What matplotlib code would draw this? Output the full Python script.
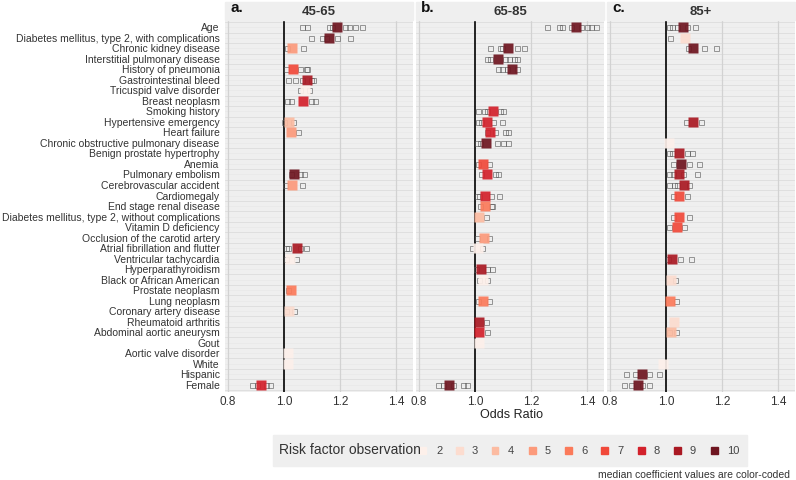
import numpy as np
import matplotlib
matplotlib.use('Agg')
import matplotlib.pyplot as plt
from matplotlib.patches import Rectangle

plt.rcParams['font.family'] = ['Liberation Sans', 'DejaVu Sans']

# Risk factors, top to bottom
factors = ['Age', 'Diabetes mellitus, type 2, with complications', 'Chronic kidney disease',
           'Interstitial pulmonary disease', 'History of pneumonia', 'Gastrointestinal bleed',
           'Tricuspid valve disorder', 'Breast neoplasm', 'Smoking history', 'Hypertensive emergency',
           'Heart failure', 'Chronic obstructive pulmonary disease', 'Benign prostate hypertrophy',
           'Anemia', 'Pulmonary embolism', 'Cerebrovascular accident', 'Cardiomegaly',
           'End stage renal disease', 'Diabetes mellitus, type 2, without complications',
           'Vitamin D deficiency', 'Occlusion of the carotid artery', 'Atrial fibrillation and flutter',
           'Ventricular tachycardia', 'Hyperparathyroidism', 'Black or African American',
           'Prostate neoplasm', 'Lung neoplasm', 'Coronary artery disease', 'Rheumatoid arthritis',
           'Abdominal aortic aneurysm', 'Gout', 'Aortic valve disorder', 'White', 'Hispanic', 'Female']

# panel a: 45-65
a_factor = ['Age', 'Diabetes mellitus, type 2, with complications', 'Chronic kidney disease',
            'History of pneumonia', 'Gastrointestinal bleed', 'Tricuspid valve disorder',
            'Breast neoplasm', 'Hypertensive emergency', 'Heart failure', 'Pulmonary embolism',
            'Cerebrovascular accident', 'Atrial fibrillation and flutter', 'Ventricular tachycardia',
            'Prostate neoplasm', 'Coronary artery disease', 'Aortic valve disorder', 'White', 'Female']
a_median = [1.188, 1.162, 1.027, 1.033, 1.083, 1.074, 1.069, 1.019, 1.026, 1.036,
            1.027, 1.045, 1.021, 1.026, 1.019, 1.013, 1.014, 0.918]
a_level = [10, 10, 5, 7, 9, 2, 8, 4, 5, 10, 5, 9, 2, 6, 3, 2, 2, 8]
a_coefs = [[1.063, 1.083, 1.162, 1.17, 1.218, 1.233, 1.254, 1.277],
           [1.096, 1.135, 1.15, 1.19, 1.236],
           [1.01, 1.067],
           [1.006, 1.057, 1.079, 1.083],
           [1.015, 1.04, 1.063, 1.098, 1.105],
           [1.057, 1.09],
           [1.01, 1.024, 1.095, 1.111],
           [1.001, 1.033],
           [1.05],
           [1.024, 1.057, 1.073],
           [1.004, 1.066],
           [1.006, 1.015, 1.057, 1.077],
           [1.006, 1.043],
           [1.013],
           [1.006, 1.036],
           [], [],
           [0.887, 0.902, 0.934, 0.95]]

# panel b: 65-85
b_factor = ['Age', 'Chronic kidney disease', 'Interstitial pulmonary disease', 'History of pneumonia',
            'Smoking history', 'Hypertensive emergency', 'Heart failure',
            'Chronic obstructive pulmonary disease', 'Anemia', 'Pulmonary embolism', 'Cardiomegaly',
            'End stage renal disease', 'Diabetes mellitus, type 2, without complications',
            'Occlusion of the carotid artery', 'Atrial fibrillation and flutter', 'Hyperparathyroidism',
            'Black or African American', 'Lung neoplasm', 'Rheumatoid arthritis',
            'Abdominal aortic aneurysm', 'Gout', 'Female']
b_median = [1.36, 1.119, 1.081, 1.131, 1.065, 1.042, 1.054, 1.038, 1.027, 1.042, 1.036,
            1.036, 1.014, 1.032, 1.012, 1.02, 1.03, 1.03, 1.014, 1.014, 1.014, 0.907]
b_level = [10, 10, 10, 10, 8, 8, 8, 10, 7, 8, 8, 6, 4, 5, 2, 9, 2, 6, 9, 8, 2, 10]
b_coefs = [[1.258, 1.3, 1.31, 1.342, 1.377, 1.399, 1.414, 1.431],
           [1.054, 1.089, 1.095, 1.149, 1.175],
           [1.044, 1.054, 1.107, 1.123, 1.139, 1.149],
           [1.083, 1.095, 1.113, 1.151],
           [1.01, 1.032, 1.044, 1.089, 1.101],
           [1.012, 1.021, 1.063, 1.095],
           [1.042, 1.071, 1.107, 1.119],
           [1.006, 1.018, 1.08, 1.101, 1.117],
           [1.01, 1.05],
           [1.021, 1.071, 1.083],
           [1.006, 1.015, 1.056, 1.087],
           [1.018, 1.057, 1.062],
           [1.039],
           [1.006, 1.051],
           [0.99, 1.026],
           [1.004, 1.044, 1.06],
           [1.014, 1.044],
           [1.01, 1.05],
           [1.039],
           [1.042],
           [],
           [0.869, 0.887, 0.923, 0.956, 0.973]]

# panel c: 85+
c_factor = ['Age', 'Diabetes mellitus, type 2, with complications', 'Chronic kidney disease',
            'Hypertensive emergency', 'Chronic obstructive pulmonary disease', 'Benign prostate hypertrophy',
            'Anemia', 'Pulmonary embolism', 'Cerebrovascular accident', 'Cardiomegaly',
            'Diabetes mellitus, type 2, without complications', 'Vitamin D deficiency',
            'Ventricular tachycardia', 'Black or African American', 'Lung neoplasm',
            'Rheumatoid arthritis', 'Abdominal aortic aneurysm', 'White', 'Hispanic', 'Female']
c_median = [1.062, 1.068, 1.098, 1.095, 1.012, 1.046, 1.052, 1.045, 1.064, 1.048,
            1.048, 1.038, 1.02, 1.018, 1.014, 1.029, 1.018, 0.988, 0.915, 0.901]
c_level = [10, 3, 10, 9, 2, 9, 10, 9, 9, 7, 7, 7, 9, 3, 6, 3, 4, 2, 10, 10]
c_coefs = [[1.011, 1.02, 1.04, 1.076, 1.104],
           [1.014],
           [1.08, 1.136, 1.177],
           [1.071, 1.125],
           [],
           [1.011, 1.02, 1.074, 1.094],
           [1.026, 1.083, 1.119],
           [1.011, 1.024, 1.062, 1.11],
           [1.011, 1.029, 1.04, 1.083],
           [1.026, 1.076],
           [1.026, 1.082],
           [1.012, 1.065],
           [1.008, 1.05, 1.088],
           [1.032],
           [1.035],
           [],
           [1.011, 1.035],
           [],
           [0.857, 0.889, 0.94, 0.975],
           [0.851, 0.875, 0.916, 0.938]]

levels = [2, 3, 4, 5, 6, 7, 8, 9, 10]
level_colors = ['#fdf0ea', '#fcdccf', '#fcbba1', '#fc9a7b', '#fb7a5a',
                '#f1493a', '#d3212b', '#aa1923', '#6e1520']
color_of = dict(zip(levels, level_colors))

panel_titles = ['45-65', '65-85', '85+']
panel_tags = ['a.', 'b.', 'c.']
panels = [(a_factor, a_median, a_level, a_coefs),
          (b_factor, b_median, b_level, b_coefs),
          (c_factor, c_median, c_level, c_coefs)]

W, H = 796, 480
fig = plt.figure(figsize=(W / 100, H / 100), dpi=100)
bg = '#efefef'
row = {f: i for i, f in enumerate(factors)}

x0, x1 = 0.79, 1.46
one_px = [284, 475, 666]   # pixel position of OR = 1.0 in each panel
scale = 280                # pixels per unit of odds ratio
top_px, bot_px = 20, 391.5

for k, (fac, med, lev, coefs) in enumerate(panels):
    left = one_px[k] - (1 - x0) * scale
    width = (x1 - x0) * scale
    ax = fig.add_axes([left / W, 1 - bot_px / H, width / W, (bot_px - top_px) / H])
    ax.set_facecolor(bg)
    ax.set_xlim(x0, x1)
    ax.set_ylim(len(factors) - 0.35, -0.7)

    # strip on top
    fig.patches.append(Rectangle((left / W, 1 - top_px / H), width / W, 18 / H,
                                 transform=fig.transFigure, color=bg, zorder=0))
    fig.text((left + 5) / W, 1 - 8 / H, panel_tags[k], fontsize=11, fontweight='bold',
             color='#111111', va='center', ha='left')
    fig.text((left + width / 2) / W, 1 - 12 / H, panel_titles[k], fontsize=9.5,
             fontweight='bold', color='#333333', va='center', ha='center')

    for y in np.arange(-0.5, len(factors), 1.0):
        ax.axhline(y, color='#dddddd', lw=0.6, zorder=1)
    for y in range(len(factors)):
        ax.axhline(y, color='#e7e7e7', lw=0.4, zorder=1)
    for v in [0.8, 1.2, 1.4]:
        ax.axvline(v, color='#d2d2d2', lw=0.9, zorder=1)
    ax.axvline(1.0, color='black', lw=1.2, zorder=2)

    for f, m, l, cs in zip(fac, med, lev, coefs):
        yy = row[f]
        if cs:
            ax.plot(cs, [yy] * len(cs), 's', ms=3.6, mfc='none', mec='#555555',
                    mew=0.7, alpha=0.6, zorder=3, linestyle='none')
        ax.plot([m], [yy], 's', ms=7.2, color=color_of[l], alpha=0.92, zorder=4,
                mec='none')

    ax.set_xticks([0.8, 1.0, 1.2, 1.4])
    ax.set_xticklabels(['0.8', '1.0', '1.2', '1.4'], fontsize=8.5, color='#333333')
    ax.tick_params(axis='x', length=0, pad=3)
    ax.set_yticks(range(len(factors)))
    if k == 0:
        ax.set_yticklabels(factors, fontsize=7.5, color='#333333')
        ax.tick_params(axis='y', length=0, pad=4)
    else:
        ax.set_yticklabels([])
        ax.tick_params(axis='y', length=0)
    for s in ax.spines.values():
        s.set_visible(False)

fig.text(512 / W, 1 - 415 / H, 'Odds Ratio', fontsize=9, color='#222222',
         ha='center', va='center')

# legend
fig.patches.append(Rectangle((273 / W, 1 - 465.5 / H), 474 / W, 30.5 / H,
                             transform=fig.transFigure, color=bg, zorder=0))
fig.text(279 / W, 1 - 450.5 / H, 'Risk factor observation', fontsize=10, color='#333333',
         ha='left', va='center')
sq_x = [423, 459, 495, 532, 568, 604, 641, 677, 714]
for xs, lv, col in zip(sq_x, levels, level_colors):
    fig.patches.append(Rectangle(((xs - 3.5) / W, 1 - 454 / H), 7 / W, 7 / H,
                                 transform=fig.transFigure, color=col, zorder=1))
    fig.text((xs + 13) / W, 1 - 450.5 / H, str(lv), fontsize=8, color='#444444',
             ha='left', va='center')

fig.text(790 / W, 1 - 475 / H, 'median coefficient values are color-coded', fontsize=7.5,
         color='#333333', ha='right', va='center')

fig.savefig('out.png', dpi=100)
